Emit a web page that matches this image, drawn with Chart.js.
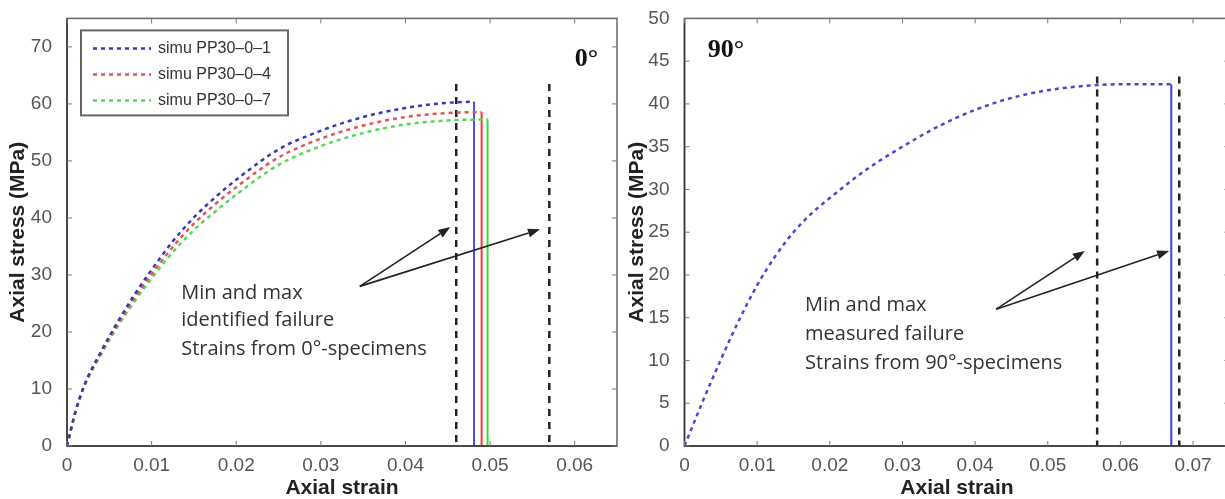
<!DOCTYPE html>
<html>
<head>
<meta charset="utf-8">
<script src="https://cdn.jsdelivr.net/npm/chart.js@4/dist/chart.umd.min.js"></script>
<style>
  html, body { margin: 0; padding: 0; background: #fff; overflow: hidden; width: 1225px; height: 499px; }
  .panel { position: absolute; top: 0; height: 499px; }
  #left { left: 0; width: 620px; }
  #right { left: 610px; width: 625px; }
</style>
</head>
<body>
<div class="panel" id="left"><canvas id="chart0"></canvas></div>
<div class="panel" id="right"><canvas id="chart90"></canvas></div>
<script>
// --- 0° specimens (left) ---
const strainPP1 = [0, 0.001, 0.002, 0.004, 0.006, 0.008, 0.01, 0.0125, 0.015, 0.0175, 0.02, 0.025, 0.03, 0.035, 0.04, 0.045, 0.0481]
const stressPP1 = [0, 6, 10.5, 16.5, 21.8, 26.6, 30.9, 35.9, 40.1, 43.6, 46.7, 52, 55.3, 57.7, 59.3, 60.2, 60.4]
const strainPP4 = [0, 0.001, 0.002, 0.004, 0.006, 0.008, 0.01, 0.0125, 0.015, 0.0175, 0.02, 0.025, 0.03, 0.035, 0.04, 0.045, 0.049]
const stressPP4 = [0, 6, 10.4, 16.3, 21.4, 26.0, 30.1, 34.9, 39.0, 42.4, 45.4, 50.6, 53.9, 56.2, 57.7, 58.4, 58.6]
const strainPP7 = [0, 0.001, 0.002, 0.004, 0.006, 0.008, 0.01, 0.0125, 0.015, 0.0175, 0.02, 0.025, 0.03, 0.035, 0.04, 0.045, 0.0497]
const stressPP7 = [0, 6, 10.3, 16.0, 21.0, 25.4, 29.4, 34.0, 37.9, 41.1, 44.1, 49.3, 52.6, 54.9, 56.4, 57.1, 57.3]
const limits0 = [0.046, 0.057]      // min / max identified failure strain
const limitTop0 = 63.5

// --- 90° specimens (right) ---
const strain90 = [0, 0.0025, 0.005, 0.0075, 0.01, 0.0125, 0.015, 0.0175, 0.02, 0.025, 0.03, 0.035, 0.04, 0.045, 0.05, 0.055, 0.06, 0.067]
const stress90 = [0, 5.2, 10.1, 14.7, 18.8, 22.2, 25.0, 27.2, 29.0, 32.3, 35.0, 37.4, 39.3, 40.7, 41.6, 42.1, 42.3, 42.3]
const limits90 = [0.0568, 0.0681]   // min / max measured failure strain
const limitTop90 = 43.2

// ticks
const strainTicks0 = [0, 0.01, 0.02, 0.03, 0.04, 0.05, 0.06]
const stressTicks0 = [0, 10, 20, 30, 40, 50, 60, 70]
const strainTicks90 = [0, 0.01, 0.02, 0.03, 0.04, 0.05, 0.06, 0.07]
const stressTicks90 = [0, 5, 10, 15, 20, 25, 30, 35, 40, 45, 50]

const sans = 'Liberation Sans, Arial, sans-serif'

function pts(xs, ys) {
  return xs.map((x, i) => ({ x: x, y: ys[i] }))
}

function curve(label, xs, ys, color) {
  return {
    label: label, data: pts(xs, ys), borderColor: color, borderWidth: 2.5,
    borderDash: [4, 4], pointRadius: 0, cubicInterpolationMode: 'monotone', inLegend: true
  }
}

function vline(x, top, color, width, dash) {
  return { data: [{ x: x, y: top }, { x: x, y: 0 }], borderColor: color, borderWidth: width, borderDash: dash || [], pointRadius: 0 }
}

function arrow(ctx, x0, y0, x1, y1) {
  const a = Math.atan2(y1 - y0, x1 - x0), L = 12, W = 4.5
  const bx = x1 - L * Math.cos(a), by = y1 - L * Math.sin(a)
  ctx.beginPath()
  ctx.moveTo(x0, y0)
  ctx.lineTo(bx, by)
  ctx.stroke()
  ctx.beginPath()
  ctx.moveTo(x1, y1)
  ctx.lineTo(bx + W * Math.sin(a), by - W * Math.cos(a))
  ctx.lineTo(bx - W * Math.sin(a), by + W * Math.cos(a))
  ctx.closePath()
  ctx.fill()
}

// matlab style box with inward ticks
const matlabBox = {
  id: 'matlabBox',
  afterDatasetsDraw(chart) {
    const { ctx, chartArea: a, scales: { x, y } } = chart
    ctx.save()
    ctx.strokeStyle = '#666'
    ctx.lineWidth = 1.5
    ctx.strokeRect(a.left, a.top, a.right - a.left, a.bottom - a.top)
    ctx.strokeStyle = '#333'
    ctx.beginPath()
    ctx.moveTo(a.left, a.top); ctx.lineTo(a.left, a.bottom); ctx.lineTo(a.right, a.bottom)
    ctx.stroke()
    ctx.strokeStyle = '#777'
    ctx.lineWidth = 1
    ctx.beginPath()
    x.ticks.forEach(t => {
      const px = x.getPixelForValue(t.value)
      ctx.moveTo(px, a.bottom); ctx.lineTo(px, a.bottom - 5)
      ctx.moveTo(px, a.top); ctx.lineTo(px, a.top + 5)
    })
    y.ticks.forEach(t => {
      const py = y.getPixelForValue(t.value)
      ctx.moveTo(a.left, py); ctx.lineTo(a.left + 5, py)
      ctx.moveTo(a.right, py); ctx.lineTo(a.right - 5, py)
    })
    ctx.stroke()
    ctx.restore()
  }
}

// text, arrows and angle label, placed in data coordinates
const notes = {
  id: 'notes',
  afterDraw(chart, args, o) {
    if (!o || !o.lines) return
    const { ctx, scales: { x, y } } = chart
    ctx.save()
    ctx.fillStyle = '#333'
    ctx.font = '20px "Open Sans", sans-serif'
    ctx.textBaseline = 'middle'
    o.lines.forEach((t, i) => ctx.fillText(t, x.getPixelForValue(o.textX), y.getPixelForValue(o.textY[i])))
    ctx.strokeStyle = '#222'
    ctx.fillStyle = '#222'
    ctx.lineWidth = 1.6
    const x0 = x.getPixelForValue(o.from[0]), y0 = y.getPixelForValue(o.from[1])
    o.tips.forEach(p => arrow(ctx, x0, y0, x.getPixelForValue(p[0]), y.getPixelForValue(p[1])))
    ctx.fillStyle = '#111'
    ctx.font = 'bold 26px "Liberation Serif", "Times New Roman", serif'
    ctx.textBaseline = 'alphabetic'
    ctx.fillText(o.angle, x.getPixelForValue(o.angleAt[0]), y.getPixelForValue(o.angleAt[1]))
    ctx.restore()
  }
}

// legend box in the upper left corner of the axes
const boxLegend = {
  id: 'boxLegend',
  afterDraw(chart, args, o) {
    if (!o || !o.show) return
    const { ctx, chartArea: a } = chart
    const items = chart.data.datasets.filter(d => d.inLegend)
    const bx = a.left + 14, by = a.top + 12, bw = 207, bh = 85
    ctx.save()
    ctx.fillStyle = '#fff'
    ctx.fillRect(bx, by, bw, bh)
    ctx.strokeStyle = '#666'
    ctx.lineWidth = 2
    ctx.strokeRect(bx, by, bw, bh)
    ctx.font = '16px ' + sans
    ctx.textBaseline = 'middle'
    items.forEach((d, i) => {
      const ry = by + 18 + i * 26
      ctx.strokeStyle = d.borderColor
      ctx.lineWidth = 2.5
      ctx.setLineDash([4, 4])
      ctx.beginPath(); ctx.moveTo(bx + 12, ry); ctx.lineTo(bx + 70, ry); ctx.stroke()
      ctx.setLineDash([])
      ctx.fillStyle = '#333'
      ctx.fillText(d.label, bx + 77, ry)
    })
    ctx.restore()
  }
}

function makeChart(id, datasets, xMax, xTicks, yMax, yTicks, pad, yWidth, yTitlePad, plugs) {
  return new Chart(document.getElementById(id), {
    type: 'line',
    data: { datasets: datasets },
    options: {
      responsive: true,
      maintainAspectRatio: false,
      animation: false,
      layout: { padding: pad },
      plugins: Object.assign({ legend: { display: false }, tooltip: { enabled: false } }, plugs),
      scales: {
        x: {
          type: 'linear', min: 0, max: xMax,
          grid: { display: false }, border: { display: false },
          afterFit: s => { s.height = 53 },
          afterBuildTicks: s => { s.ticks = xTicks.map(v => ({ value: v })) },
          ticks: {
            autoSkip: false, maxRotation: 0, padding: 0, color: '#555', font: { family: sans, size: 19 },
            callback: v => (v === 0 ? '0' : v.toFixed(2))
          },
          title: { display: true, text: 'Axial strain', color: '#222', padding: { top: 0, bottom: 0 }, font: { family: sans, size: 21, weight: 'bold', lineHeight: 1 } }
        },
        y: {
          min: 0, max: yMax,
          grid: { display: false }, border: { display: false },
          afterFit: s => { s.width = yWidth },
          afterBuildTicks: s => { s.ticks = yTicks.map(v => ({ value: v })) },
          ticks: { autoSkip: false, padding: 7, color: '#555', font: { family: sans, size: 19 } },
          title: { display: true, text: 'Axial stress (MPa)', color: '#222', padding: { top: yTitlePad, bottom: 0 }, font: { family: sans, size: 21, weight: 'bold', lineHeight: 1 } }
        }
      }
    },
    plugins: [matlabBox, notes, boxLegend]
  })
}

makeChart('chart0', [
  curve('simu PP30\u20130\u20131', strainPP1, stressPP1, '#3838b0'),
  curve('simu PP30\u20130\u20134', strainPP4, stressPP4, '#e05555'),
  curve('simu PP30\u20130\u20137', strainPP7, stressPP7, '#55d855'),
  vline(strainPP1[strainPP1.length - 1], stressPP1[stressPP1.length - 1], '#4a4aff', 2),
  vline(strainPP4[strainPP4.length - 1], stressPP4[stressPP4.length - 1], '#ff3535', 2),
  vline(strainPP7[strainPP7.length - 1], stressPP7[stressPP7.length - 1], '#35e035', 2),
  vline(limits0[0], limitTop0, '#222', 2.5, [7, 6]),
  vline(limits0[1], limitTop0, '#222', 2.5, [7, 6])
], 0.065, strainTicks0, 75, stressTicks0, { top: 11, right: 3, left: 0, bottom: 0 }, 67, 8, {
  notes: {
    lines: ['Min and max', 'identified failure', 'Strains from 0\u00b0-specimens'],
    textX: 0.0135, textY: [26.8, 22.0, 17.0],
    from: [0.0346, 28.0], tips: [[0.0453, 38.4], [0.0559, 38.0]],
    angle: '0\u00b0', angleAt: [0.060, 66.7]
  },
  boxLegend: { show: true }
})

makeChart('chart90', [
  curve('simu PP30\u201390', strain90, stress90, '#4848d0'),
  vline(strain90[strain90.length - 1], stress90[stress90.length - 1], '#3a3aee', 2),
  vline(limits90[0], limitTop90, '#222', 2.5, [7, 6]),
  vline(limits90[1], limitTop90, '#222', 2.5, [7, 6])
], 0.075, strainTicks90, 50, stressTicks90, { top: 16, right: 5.6, left: 0, bottom: 0 }, 74.5, 17, {
  notes: {
    lines: ['Min and max', 'measured failure', 'Strains from 90\u00b0-specimens'],
    textX: 0.0166, textY: [16.4, 13.1, 9.7],
    from: [0.0429, 16.0], tips: [[0.0551, 22.8], [0.0667, 22.8]],
    angle: '90\u00b0', angleAt: [0.0032, 45.5]
  },
  boxLegend: { show: false }
})
</script>
</body>
</html>
